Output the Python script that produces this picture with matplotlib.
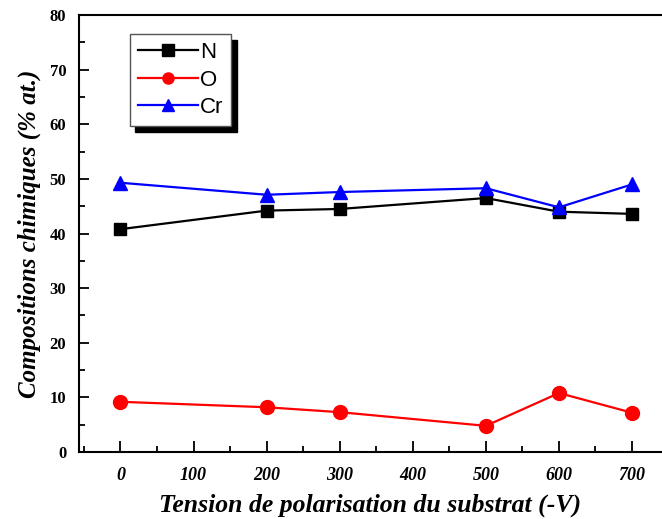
import matplotlib.pyplot as plt
from matplotlib.ticker import MultipleLocator

# =========================
# DATA
# =========================

tension = [0, 200, 300, 500, 600, 700]

n_vals = [40.8, 44.2, 44.5, 46.5, 44.0, 43.6]
o_vals = [9.2, 8.2, 7.3, 4.8, 10.8, 7.2]
cr_vals = [49.3, 47.1, 47.6, 48.3, 44.8, 49.0]

x_ticks = [0, 100, 200, 300, 400, 500, 600, 700]

# =========================
# PLOT
# =========================

fig = plt.figure(figsize=(6.62, 5.19), dpi=100)
ax = fig.add_axes([0.119, 0.129, 0.881, 0.842])

ax.plot(tension, n_vals, color="black", marker="s", markersize=9, lw=1.6, label="N")
ax.plot(tension, o_vals, color="red", marker="o", markersize=10, lw=1.6, label="O")
ax.plot(tension, cr_vals, color="blue", marker="^", markersize=10, lw=1.6, label="Cr")

ax.set_xlim(-57, 741)
ax.set_ylim(0, 80)

ax.set_xticks(x_ticks)
ax.xaxis.set_minor_locator(MultipleLocator(50))
ax.yaxis.set_major_locator(MultipleLocator(10))
ax.yaxis.set_minor_locator(MultipleLocator(5))

ax.spines["right"].set_visible(False)
for s in ["left", "bottom", "top"]:
    ax.spines[s].set_linewidth(1.5)

ax.tick_params(axis="x", which="major", direction="in", length=8, width=1.3, pad=11)
ax.tick_params(axis="x", which="minor", direction="in", length=4, width=1.3)
ax.tick_params(axis="y", which="major", direction="in", length=7, width=1.3, pad=9)
ax.tick_params(axis="y", which="minor", direction="in", length=4, width=1.3)
ax.tick_params(top=False, right=False, which="both")

for lab in ax.get_xticklabels():
    lab.set_fontfamily("Liberation Serif")
    lab.set_fontweight("bold")
    lab.set_fontstyle("italic")
    lab.set_fontsize(13)
for lab in ax.get_yticklabels():
    lab.set_fontfamily("Liberation Serif")
    lab.set_fontweight("bold")
    lab.set_fontsize(12)

ax.set_xlabel("Tension de polarisation du substrat (-V)", fontfamily="Liberation Serif",
              fontweight="bold", fontstyle="italic", fontsize=18.5, labelpad=7)
ax.set_ylabel("Compositions chimiques (% at.)", fontfamily="Liberation Serif",
              fontweight="bold", fontstyle="italic", fontsize=18, labelpad=6)

leg = ax.legend(loc="upper left", bbox_to_anchor=(0.0875, 0.9565), fancybox=False,
                shadow={"color": "black", "alpha": 1, "ox": 4, "oy": -4}, edgecolor="#555555",
                prop={"family": "Liberation Sans", "size": 16}, handlelength=2.7,
                handletextpad=0.1, borderpad=0.35, labelspacing=0.3, framealpha=1,
                borderaxespad=0)
leg.get_frame().set_linewidth(1.0)
for h in leg.legend_handles:
    h.set_markersize(8)

# =========================
# SAVE IMAGE
# =========================

plt.savefig("out.png", dpi=100)
